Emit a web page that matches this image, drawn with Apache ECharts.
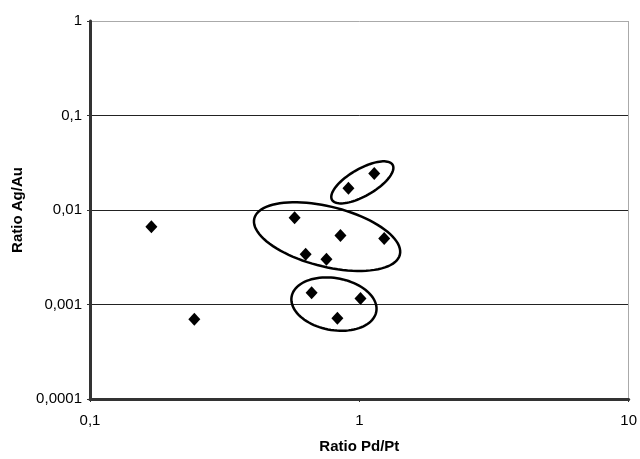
<!DOCTYPE html>
<html>
<head>
<meta charset="utf-8">
<script src="https://cdn.jsdelivr.net/npm/echarts@6/dist/echarts.min.js"></script>
<style>
html,body{margin:0;padding:0;background:#fff;}
#chart{width:640px;height:459px;}
</style>
</head>
<body>
<div id="chart"></div>
<script>
// Data
const ratioPdPt = [0.169, 0.244, 0.575, 0.632, 0.755, 0.851, 1.237, 0.911, 1.136, 0.665, 0.829, 1.01];
const ratioAgAu = [0.00665, 0.000698, 0.00826, 0.0034, 0.00301, 0.00536, 0.00499, 0.01695, 0.0243, 0.00133, 0.000715, 0.001155];
const xTickLabels = ['0,1', '1', '10'];
const yTickLabels = ['0,0001', '0,001', '0,01', '0,1', '1'];
// Group ellipse centres (data coords)
const ellipseCentreX = [1.026, 0.759, 0.805];
const ellipseCentreY = [0.0196, 0.00523, 0.00101];
// Ellipse shapes (pixels, degrees) - styling
const ellipseShapes = [
  {a: 35, b: 13.5, angle: 30},
  {a: 75, b: 30, angle: -14},
  {a: 43, b: 26, angle: -10}
];

const points = ratioPdPt.map((x, i) => [x, ratioAgAu[i]]);
const ellipseData = ellipseCentreX.map((x, i) => [x, ellipseCentreY[i], i]);

function labelFor(list, base) {
  return function (v) {
    const e = Math.round(Math.log10(v)) - base;
    return list[e] !== undefined ? list[e] : '';
  };
}

const chart = echarts.init(document.getElementById('chart'), null, {renderer: 'canvas'});
chart.setOption({
  animation: false,
  backgroundColor: '#fff',
  grid: {left: 90, right: 9, top: 21, bottom: 55, containLabel: false},
  xAxis: {
    type: 'log', logBase: 10, min: 0.1, max: 10,
    name: 'Ratio Pd/Pt', nameLocation: 'middle', nameGap: 40,
    nameTextStyle: {fontFamily: 'Liberation Sans', fontWeight: 'bold', fontSize: 15, color: '#000'},
    axisLine: {show: true, onZero: false, lineStyle: {color: '#333', width: 3}},
    axisTick: {show: true, length: 3, lineStyle: {color: '#333'}},
    minorTick: {show: false},
    axisLabel: {formatter: labelFor(xTickLabels, -1), fontFamily: 'Liberation Sans', fontSize: 15, color: '#000', margin: 14},
    splitLine: {show: true, lineStyle: {color: ['transparent', 'transparent', '#aaa'], width: 1}}
  },
  yAxis: {
    type: 'log', logBase: 10, min: 0.0001, max: 1,
    name: 'Ratio Ag/Au', nameLocation: 'middle', nameGap: 65, nameRotate: 90,
    nameTextStyle: {fontFamily: 'Liberation Sans', fontWeight: 'bold', fontSize: 15, color: '#000'},
    axisLine: {show: true, onZero: false, lineStyle: {color: '#333', width: 3}},
    axisTick: {show: true, length: 3, lineStyle: {color: '#333'}},
    axisLabel: {formatter: labelFor(yTickLabels, -4), fontFamily: 'Liberation Sans', fontSize: 15, color: '#000', margin: 8},
    splitLine: {show: true, lineStyle: {color: ['transparent', '#222', '#222', '#222', '#aaa'], width: 1}}
  },
  series: [
    {
      type: 'scatter',
      data: points,
      symbol: 'diamond',
      symbolSize: [12, 13],
      itemStyle: {color: '#000', opacity: 1},
      z: 3
    },
    {
      type: 'custom',
      clip: false,
      data: ellipseData,
      z: 4,
      renderItem: function (params, api) {
        const c = api.coord([api.value(0), api.value(1)]);
        const s = ellipseShapes[api.value(2)];
        const th = s.angle * Math.PI / 180;
        const pts = [];
        for (let k = 0; k < 90; k++) {
          const t = k / 90 * Math.PI * 2;
          const ex = s.a * Math.cos(t), ey = s.b * Math.sin(t);
          pts.push([c[0] + ex * Math.cos(th) + ey * Math.sin(th),
                    c[1] - ex * Math.sin(th) + ey * Math.cos(th)]);
        }
        return {
          type: 'polygon',
          shape: {points: pts},
          style: {fill: 'none', stroke: '#000', lineWidth: 2.5}
        };
      }
    }
  ]
});
</script>
</body>
</html>
